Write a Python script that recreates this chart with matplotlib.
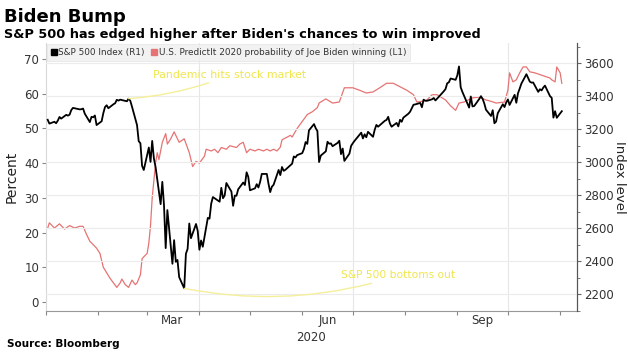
import numpy as np
import pandas as pd
import matplotlib
matplotlib.use('Agg')
import matplotlib.pyplot as plt
import matplotlib.dates as mdates
from matplotlib.lines import Line2D
from matplotlib.transforms import blended_transform_factory

# S&P 500 daily close (right axis)
sp_dates = ['2020-01-02','2020-01-03','2020-01-06','2020-01-07','2020-01-08','2020-01-09','2020-01-10',
            '2020-01-13','2020-01-14','2020-01-15','2020-01-16','2020-01-17','2020-01-21','2020-01-22',
            '2020-01-23','2020-01-24','2020-01-27','2020-01-28','2020-01-29','2020-01-30','2020-01-31',
            '2020-02-03','2020-02-04','2020-02-05','2020-02-06','2020-02-07','2020-02-10','2020-02-11',
            '2020-02-12','2020-02-13','2020-02-14','2020-02-18','2020-02-19','2020-02-20','2020-02-21',
            '2020-02-24','2020-02-25','2020-02-26','2020-02-27','2020-02-28','2020-03-02','2020-03-03',
            '2020-03-04','2020-03-05','2020-03-06','2020-03-09','2020-03-10','2020-03-11','2020-03-12',
            '2020-03-13','2020-03-16','2020-03-17','2020-03-18','2020-03-19','2020-03-20','2020-03-23',
            '2020-03-24','2020-03-25','2020-03-26','2020-03-27','2020-03-30','2020-03-31','2020-04-01',
            '2020-04-02','2020-04-03','2020-04-06','2020-04-07','2020-04-08','2020-04-09','2020-04-13',
            '2020-04-14','2020-04-15','2020-04-16','2020-04-17','2020-04-20','2020-04-21','2020-04-22',
            '2020-04-23','2020-04-24','2020-04-27','2020-04-28','2020-04-29','2020-04-30','2020-05-01',
            '2020-05-04','2020-05-05','2020-05-06','2020-05-07','2020-05-08','2020-05-11','2020-05-12',
            '2020-05-13','2020-05-14','2020-05-15','2020-05-18','2020-05-19','2020-05-20','2020-05-21',
            '2020-05-22','2020-05-26','2020-05-27','2020-05-28','2020-05-29','2020-06-01','2020-06-02',
            '2020-06-03','2020-06-04','2020-06-05','2020-06-08','2020-06-09','2020-06-10','2020-06-11',
            '2020-06-12','2020-06-15','2020-06-16','2020-06-17','2020-06-18','2020-06-19','2020-06-22',
            '2020-06-23','2020-06-24','2020-06-25','2020-06-26','2020-06-29','2020-06-30','2020-07-01',
            '2020-07-02','2020-07-06','2020-07-07','2020-07-08','2020-07-09','2020-07-10','2020-07-13',
            '2020-07-14','2020-07-15','2020-07-16','2020-07-17','2020-07-20','2020-07-21','2020-07-22',
            '2020-07-23','2020-07-24','2020-07-27','2020-07-28','2020-07-29','2020-07-30','2020-07-31',
            '2020-08-03','2020-08-04','2020-08-05','2020-08-06','2020-08-07','2020-08-10','2020-08-11',
            '2020-08-12','2020-08-13','2020-08-14','2020-08-17','2020-08-18','2020-08-19','2020-08-20',
            '2020-08-21','2020-08-24','2020-08-25','2020-08-26','2020-08-27','2020-08-28','2020-08-31',
            '2020-09-01','2020-09-02','2020-09-03','2020-09-04','2020-09-08','2020-09-09','2020-09-10',
            '2020-09-11','2020-09-14','2020-09-15','2020-09-16','2020-09-17','2020-09-18','2020-09-21',
            '2020-09-22','2020-09-23','2020-09-24','2020-09-25','2020-09-28','2020-09-29','2020-09-30',
            '2020-10-01','2020-10-02','2020-10-05','2020-10-06','2020-10-07','2020-10-08','2020-10-09',
            '2020-10-12','2020-10-13','2020-10-14','2020-10-15','2020-10-16','2020-10-19','2020-10-20',
            '2020-10-21','2020-10-22','2020-10-23','2020-10-26','2020-10-27','2020-10-28','2020-10-29',
            '2020-10-30','2020-11-02']
sp_close = [3258, 3235, 3246, 3237, 3253, 3275, 3265,
            3288, 3283, 3289, 3317, 3330, 3321, 3322,
            3326, 3295, 3244, 3276, 3273, 3284, 3226,
            3249, 3298, 3335, 3346, 3328, 3352, 3358,
            3379, 3374, 3380, 3370, 3386, 3373, 3338,
            3226, 3128, 3116, 2979, 2954, 3090, 3003,
            3130, 3024, 2972, 2747, 2882, 2741, 2481,
            2711, 2386, 2529, 2398, 2409, 2305, 2237,
            2447, 2476, 2630, 2541, 2627, 2585, 2471,
            2527, 2489, 2664, 2659, 2750, 2790, 2762,
            2846, 2783, 2800, 2875, 2823, 2737, 2799,
            2798, 2837, 2878, 2863, 2940, 2912, 2831,
            2843, 2868, 2848, 2881, 2930, 2930, 2870,
            2820, 2853, 2864, 2954, 2923, 2972, 2949,
            2955, 2992, 3036, 3030, 3044, 3056, 3081,
            3123, 3112, 3194, 3232, 3207, 3190, 3002,
            3041, 3067, 3125, 3113, 3115, 3098, 3118,
            3131, 3050, 3084, 3009, 3053, 3100, 3116,
            3130, 3180, 3145, 3170, 3152, 3185, 3155,
            3198, 3227, 3216, 3225, 3252, 3257, 3276,
            3236, 3216, 3239, 3218, 3258, 3246, 3271,
            3295, 3307, 3328, 3349, 3351, 3360, 3334,
            3380, 3373, 3373, 3382, 3390, 3375, 3386,
            3397, 3431, 3444, 3479, 3485, 3508, 3500,
            3527, 3581, 3455, 3427, 3332, 3399, 3339,
            3341, 3384, 3401, 3385, 3357, 3319, 3281,
            3316, 3237, 3247, 3298, 3352, 3335, 3363,
            3381, 3348, 3409, 3361, 3419, 3447, 3477,
            3534, 3512, 3489, 3483, 3484, 3427, 3443,
            3436, 3453, 3465, 3401, 3391, 3271, 3310,
            3270, 3310]

# PredictIt probability of Biden winning, percent (left axis)
pi_dates = ['2020-01-02','2020-01-03','2020-01-06','2020-01-09','2020-01-12','2020-01-15','2020-01-18',
            '2020-01-21','2020-01-23','2020-01-25','2020-01-27','2020-01-29','2020-01-31','2020-02-02',
            '2020-02-04','2020-02-06','2020-02-08','2020-02-10','2020-02-12','2020-02-14','2020-02-15',
            '2020-02-17','2020-02-19','2020-02-21','2020-02-23','2020-02-24','2020-02-26','2020-02-27',
            '2020-02-29','2020-03-01','2020-03-02','2020-03-03','2020-03-04','2020-03-06','2020-03-07',
            '2020-03-08','2020-03-10','2020-03-12','2020-03-13','2020-03-15','2020-03-17','2020-03-19',
            '2020-03-20','2020-03-23','2020-03-26','2020-03-28','2020-03-30','2020-04-01','2020-04-04',
            '2020-04-05','2020-04-08','2020-04-10','2020-04-12','2020-04-14','2020-04-17','2020-04-19',
            '2020-04-23','2020-04-25','2020-04-27','2020-04-29','2020-05-01','2020-05-04','2020-05-06',
            '2020-05-09','2020-05-11','2020-05-13','2020-05-15','2020-05-17','2020-05-19','2020-05-20',
            '2020-05-25','2020-05-26','2020-05-29','2020-06-01','2020-06-04','2020-06-07','2020-06-10',
            '2020-06-11','2020-06-15','2020-06-19','2020-06-23','2020-06-26','2020-07-01','2020-07-05',
            '2020-07-09','2020-07-13','2020-07-17','2020-07-21','2020-07-25','2020-07-29','2020-08-02',
            '2020-08-06','2020-08-08','2020-08-11','2020-08-14','2020-08-17','2020-08-20','2020-08-25',
            '2020-08-28','2020-08-31','2020-09-02','2020-09-05','2020-09-10','2020-09-14','2020-09-18',
            '2020-09-21','2020-09-24','2020-09-29','2020-10-01','2020-10-02','2020-10-04','2020-10-06',
            '2020-10-08','2020-10-10','2020-10-12','2020-10-14','2020-10-17','2020-10-20','2020-10-23',
            '2020-10-26','2020-10-27','2020-10-29','2020-10-30','2020-11-01','2020-11-02']
pi_prob = [21.3, 22.8, 21.3, 22.5, 21.0, 22.0, 21.3,
           21.8, 21.8, 19.5, 17.5, 16.5, 15.5, 14.0,
           10.0, 8.4, 6.8, 5.5, 4.2, 5.5, 6.6,
           5.0, 4.2, 6.3, 5.0, 5.5, 7.8, 12.5,
           13.5, 14.0, 17.0, 22.0, 30.0, 40.0, 43.0,
           41.0, 46.0, 48.5, 45.5, 47.0, 49.0, 47.0,
           46.0, 47.0, 43.0, 39.0, 40.5, 40.0, 42.0,
           44.0, 43.5, 44.0, 43.0, 44.5, 44.0, 45.0,
           44.5, 45.5, 46.0, 43.0, 44.0, 43.5, 44.0,
           43.5, 44.0, 43.5, 44.0, 43.5, 44.6, 46.7,
           48.0, 47.5, 50.0, 52.0, 54.0, 54.8, 56.0,
           57.3, 58.5, 57.3, 57.6, 61.7, 61.7, 61.0,
           60.2, 60.5, 61.7, 63.0, 63.0, 62.0, 61.0,
           59.7, 57.6, 57.8, 58.2, 59.7, 59.7, 58.2,
           56.5, 55.2, 57.3, 57.6, 58.8, 59.0, 58.2,
           57.8, 57.3, 57.6, 61.0, 66.0, 63.4, 64.0,
           66.0, 67.7, 67.7, 66.3, 66.0, 65.5, 65.0,
           64.5, 64.0, 63.4, 67.7, 66.0, 63.0]

left_ticks = [0, 10, 20, 30, 40, 50, 60, 70]
right_ticks = [2200, 2400, 2600, 2800, 3000, 3200, 3400, 3600]
month_labels = ['Mar', 'Jun', 'Sep']
month_label_dates = ['2020-03-16', '2020-06-16', '2020-09-16']
quarter_grid = ['2020-04-01', '2020-07-01', '2020-10-01']

sp_x = pd.to_datetime(sp_dates)
pi_x = pd.to_datetime(pi_dates)

plt.rcParams['font.family'] = ['DejaVu Sans']
fig = plt.figure(figsize=(6.28, 3.55), dpi=100)
ax = fig.add_axes([46/628, 1-311/355, 531/628, 268/355])
ax2 = ax.twinx()

red = '#e67373'
ax.plot(pi_x, pi_prob, color=red, lw=0.9)
ax2.plot(sp_x, sp_close, color='black', lw=1.3)

ax.set_xlim(pd.Timestamp('2020-01-01'), pd.Timestamp('2020-11-11'))
ax.set_ylim(-2.6, 74.6)
ax2.set_ylim(2103, 3723)

ax.set_yticks(left_ticks)
ax2.set_yticks(right_ticks)
ax2.set_yticks(np.arange(2100, 3701, 100), minor=True)
ax2.grid(axis='y', color='#ececec', lw=0.8)
ax2.set_axisbelow(True)
ax.set_zorder(ax2.get_zorder() - 1)
ax.patch.set_visible(True)
ax2.patch.set_visible(False)

ax.xaxis.set_major_locator(mdates.MonthLocator())
ax.xaxis.set_major_formatter(plt.NullFormatter())
ax.set_xticks(pd.to_datetime(month_label_dates), minor=True)
ax.set_xticklabels(month_labels, minor=True)
ax.tick_params(axis='x', which='major', length=3, color='#888888', direction='out')
ax.tick_params(axis='x', which='minor', length=0, pad=2, labelsize=8.5, labelcolor='#333333')
for d in pd.to_datetime(quarter_grid):
    ax.axvline(d, color='#e6e6e6', lw=0.8, zorder=0)

ax.tick_params(axis='y', length=3, color='#888888', labelsize=8.5, labelcolor='#333333', pad=2)
ax2.tick_params(axis='y', which='major', length=3, color='#666666', labelsize=8.5, labelcolor='#333333', pad=2)
ax2.tick_params(axis='y', which='minor', length=2, color='#666666')

for a in (ax, ax2):
    a.spines['top'].set_visible(False)
    a.spines['left'].set_color('#d8d8d8')
    a.spines['bottom'].set_color('#999999')
    a.spines['right'].set_color('#555555')
ax2.spines['left'].set_visible(False)
ax2.spines['bottom'].set_visible(False)

ax.set_ylabel('Percent', fontsize=10, color='#222222', labelpad=4)
ax2.set_ylabel('Index level', fontsize=9.5, color='#222222', rotation=270, labelpad=9)

tr = blended_transform_factory(ax.transData, ax.transAxes)
ax.text(pd.Timestamp('2020-06-06'), -0.075, '2020', transform=tr, ha='center', va='top',
        fontsize=8.5, color='#333333')

# annotations
yel = '#f0e64a'
ax2.annotate('Pandemic hits stock market', xy=(pd.Timestamp('2020-02-19'), 3386),
             xytext=(pd.Timestamp('2020-04-19'), 3529), ha='center', va='center',
             fontsize=7.9, color=yel,
             arrowprops=dict(arrowstyle='-', color='#f5ef9a', lw=1, shrinkA=0, shrinkB=0,
                             connectionstyle='arc3,rad=-0.08'))
ax2.annotate('S&P 500 bottoms out', xy=(pd.Timestamp('2020-03-23'), 2237),
             xytext=(pd.Timestamp('2020-07-28'), 2315), ha='center', va='center',
             fontsize=7.7, color=yel,
             arrowprops=dict(arrowstyle='-', color='#f5ef9a', lw=1, shrinkA=0, shrinkB=0,
                             connectionstyle='arc3,rad=-0.13'))

handles = [Line2D([], [], marker='s', ls='', color='black', markersize=5),
           Line2D([], [], marker='s', ls='', color=red, markersize=5)]
leg = ax2.legend(handles, ['S&P 500 Index (R1)', 'U.S. PredictIt 2020 probability of Joe Biden winning (L1)'],
                 loc='upper left', bbox_to_anchor=(0.0, 1.0), ncol=2, fontsize=6.4, frameon=True,
                 fancybox=False, handlelength=0.6, handletextpad=0.2, columnspacing=0.8,
                 borderpad=0.45, borderaxespad=0.1)
leg.get_frame().set_facecolor('#efefef')
leg.get_frame().set_edgecolor('#e4e4e4')
leg.get_frame().set_linewidth(0.6)
for t in leg.get_texts():
    t.set_color('#333333')

fig.text(4/628, 1-22/355, 'Biden Bump', fontsize=13, fontweight='bold', color='black', ha='left', va='baseline')
fig.text(4/628, 1-38/355, "S&P 500 has edged higher after Biden's chances to win improved",
         fontsize=9.3, fontweight='bold', color='black', ha='left', va='baseline')
fig.text(7/628, 1-344/355, 'Source: Bloomberg', fontsize=7.5, fontweight='bold', color='black',
         ha='left', va='center')

fig.savefig('out.png', dpi=100)
